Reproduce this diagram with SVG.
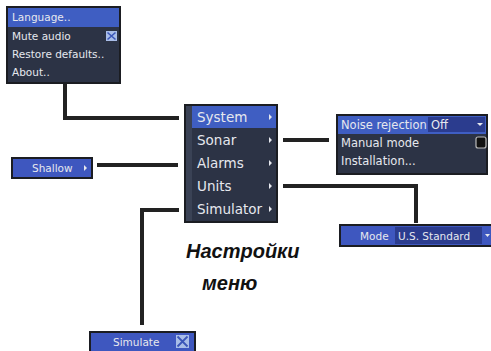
<svg xmlns="http://www.w3.org/2000/svg" width="491" height="351" viewBox="0 0 491 351">
<style>
.menu{fill:#2c3345;stroke:#1b1d22;stroke-width:2}
.hl{fill:#3f5ec2}
.blue{fill:#3e57bf;stroke:#1b1d22;stroke-width:2}
.field{fill:#2b3c8e}
.t{font-family:"DejaVu Sans",sans-serif;fill:#e6e8ee}
.s11{font-size:10.5px}
.s12{font-size:11.5px}
.s14{font-size:13.5px}
.tri{fill:#e6e8ee}
.conn{fill:none;stroke:#222;stroke-width:4}
.title{font-family:"Liberation Sans",Arial,sans-serif;font-weight:bold;font-style:italic;font-size:20px;fill:#111}
</style>
<rect width="491" height="351" fill="#fff"/>
<g id="connectors">
<polyline class="conn" points="65,84 65,118 179,118"/>
<line class="conn" x1="97" y1="165" x2="178" y2="165"/>
<line class="conn" x1="283" y1="140" x2="329" y2="140"/>
<polyline class="conn" points="283,186 416,186 416,223"/>
<polyline class="conn" points="179,210 142,210 142,325"/>
</g>
<g id="general-menu">
<rect class="menu" x="7" y="7" width="113" height="76"/>
<rect class="hl" x="8" y="8" width="111" height="19"/>
<text class="t s11" x="12" y="21">Language..</text>
<text class="t s11" x="12" y="40">Mute audio</text>
<rect x="106" y="31" width="11" height="10" fill="#a9bde8"/>
<path d="M107.5,32.5 L115.5,39.5 M115.5,32.5 L107.5,39.5" stroke="#3b56b8" stroke-width="1.6"/>
<text class="t s11" x="12" y="58">Restore defaults..</text>
<text class="t s11" x="12" y="76">About..</text>
</g>
<g id="main-menu">
<rect class="menu" x="185" y="105" width="92" height="117"/>
<rect x="186" y="106" width="6" height="115" fill="#3a4255"/>
<rect class="hl" x="192" y="106" width="84" height="22"/>
<text class="t s14" x="197" y="122">System</text>
<text class="t s14" x="197" y="145">Sonar</text>
<text class="t s14" x="197" y="168">Alarms</text>
<text class="t s14" x="197" y="191">Units</text>
<text class="t s14" x="197" y="214">Simulator</text>
<path class="tri" d="M269,114 l3,3 l-3,3z M269,137 l3,3 l-3,3z M269,160 l3,3 l-3,3z M269,183 l3,3 l-3,3z M269,206 l3,3 l-3,3z"/>
</g>
<g id="sonar-menu">
<rect class="menu" x="337" y="115" width="150" height="59"/>
<rect class="hl" x="338" y="116" width="148" height="18"/>
<text class="t s12" x="341" y="129">Noise rejection</text>
<rect class="field" x="428" y="117" width="57" height="15"/>
<text class="t s12" x="431" y="129">Off</text>
<path class="tri" d="M477,123 l6,0 l-3,3z"/>
<text class="t s12" x="341" y="147">Manual mode</text>
<rect x="476" y="137" width="10" height="11" rx="2" fill="#111" stroke="#bbb" stroke-width="1.2"/>
<text class="t s12" x="341" y="165">Installation...</text>
</g>
<g id="units-mode">
<rect class="blue" x="340" y="225" width="152" height="21"/>
<text class="t s11" x="360" y="240">Mode</text>
<rect class="field" x="395" y="227" width="87" height="17"/>
<text class="t s11" x="398" y="240">U.S. Standard</text>
<path class="tri" d="M485,234 l5,0 l-2.5,3z"/>
</g>
<g id="alarms-shallow">
<rect class="blue" x="12" y="158" width="80" height="20"/>
<text class="t s11" x="32" y="172">Shallow</text>
<path class="tri" d="M84,165 l3,3 l-3,3z"/>
</g>
<g id="simulator-simulate">
<rect class="blue" x="90" y="332" width="105" height="21"/>
<text class="t s11" x="113" y="346">Simulate</text>
<rect x="176" y="335" width="13" height="13" fill="#a9bde8"/>
<path d="M177.5,336.5 L187.5,346.5 M187.5,336.5 L177.5,346.5" stroke="#3b56b8" stroke-width="1.8"/>
</g>
<g id="caption">
<text class="title" x="186" y="258">Настройки</text>
<text class="title" x="202" y="290">меню</text>
</g>
</svg>
